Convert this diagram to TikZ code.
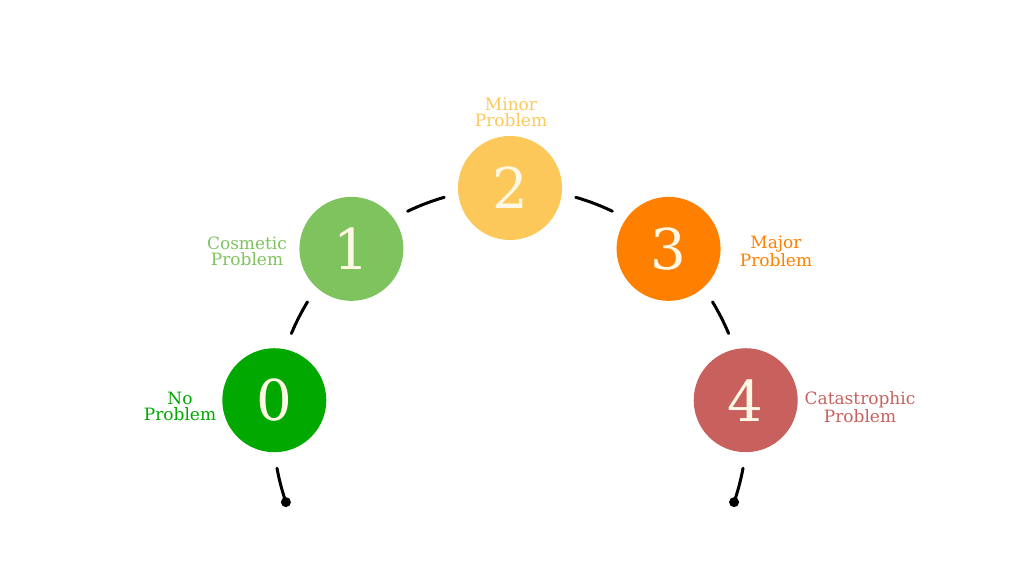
\documentclass[tikz,border=0pt]{standalone}
\usepackage{fontspec}
\setmainfont{DejaVu Serif}
\usetikzlibrary{positioning}

\definecolor{sevzero}{RGB}{0,168,0}
\definecolor{sevone}{RGB}{126,195,94}
\definecolor{sevtwo}{RGB}{253,200,90}
\definecolor{sevthree}{RGB}{255,127,0}
\definecolor{sevfour}{RGB}{200,96,94}
\definecolor{cream}{RGB}{255,248,228}

\tikzset{
    sevball/.style={circle, inner sep=0pt, minimum size=31.2mm, text=cream,
        font=\fontsize{48}{48}\selectfont},
    sevtext/.style={align=center, inner sep=0pt, font=\fontsize{14.5}{13.6}\selectfont},
    rim/.style={line width=0.9mm, line cap=round},
    rimend/.style={circle, fill=black, inner sep=0pt, minimum size=3mm}
}

\begin{document}
\begin{tikzpicture}[x=0.3mm, y=0.3mm]
    \useasboundingbox (0,0) rectangle (1024,576);
    \coordinate (ctr) at (510,151);

    % severity levels along the arc
    \node[sevball, fill=sevzero]  (n0) at ([shift={(174:237)}]ctr) {0};
    \node[sevball, fill=sevone]   (n1) at ([shift={(132:237)}]ctr) {1};
    \node[sevball, fill=sevtwo]   (n2) at ([shift={(90:237)}]ctr) {2};
    \node[sevball, fill=sevthree] (n3) at ([shift={(48:237)}]ctr) {3};
    \node[sevball, fill=sevfour]  (n4) at ([shift={(6:237)}]ctr) {4};

    % labels
    \node[sevtext, text=sevzero]  (t0) at (180,170) {No\\Problem};
    \node[sevtext, text=sevone]   (t1) at (247,325) {Cosmetic\\Problem};
    \node[sevtext, text=sevtwo]   (t2) at (511,464) {Minor\\Problem};
    \node[sevtext, text=sevthree] (t3) at (776,325) {Major\\Problem};
    \node[sevtext, text=sevfour]  (t4) at (860,169) {Catastrophic\\Problem};

    % arc pieces between the levels
    \draw[rim] ([shift={(157.3:237)}]ctr) arc[start angle=157.3, end angle=148.7, radius=237];
    \draw[rim] ([shift={(115.6:237)}]ctr) arc[start angle=115.6, end angle=106.1, radius=237];
    \draw[rim] ([shift={(73.9:237)}]ctr) arc[start angle=73.9, end angle=64.4, radius=237];
    \draw[rim] ([shift={(31.3:237)}]ctr) arc[start angle=31.3, end angle=22.7, radius=237];

    % loose ends
    \node[rimend] (d0) at ([shift={(199:237)}]ctr) {};
    \node[rimend] (d4) at ([shift={(341:237)}]ctr) {};
    \draw[rim] ([shift={(190.5:237)}]ctr) arc[start angle=190.5, end angle=199, radius=237];
    \draw[rim] ([shift={(349.5:237)}]ctr) arc[start angle=349.5, end angle=341, radius=237];
\end{tikzpicture}
\end{document}
